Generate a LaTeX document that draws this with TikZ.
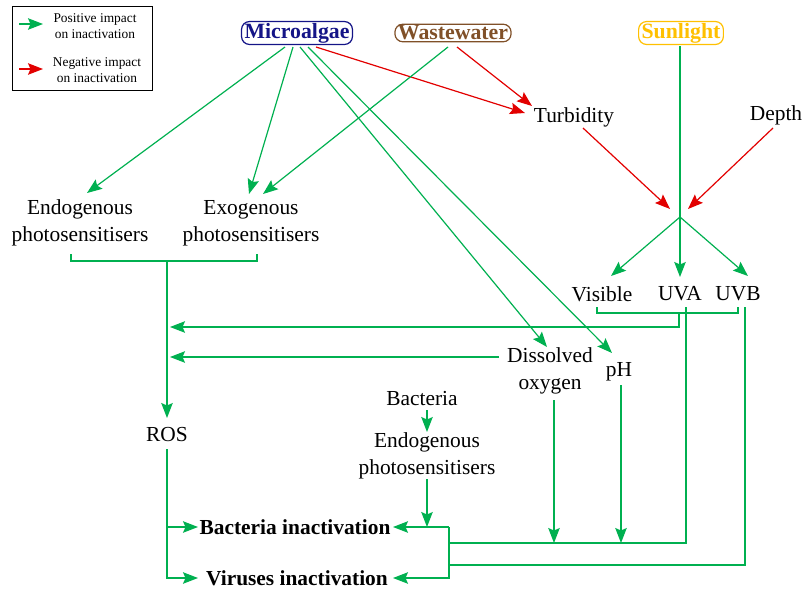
\documentclass[tikz,border=0pt]{standalone}
\usepackage{fontspec}
\setmainfont{Liberation Serif}
\usetikzlibrary{arrows.meta}
\definecolor{gr}{RGB}{0,176,80}
\definecolor{rd}{RGB}{226,0,0}
\definecolor{navyc}{RGB}{20,20,135}
\definecolor{brn}{RGB}{128,80,40}
\definecolor{goldc}{RGB}{255,192,0}
\begin{document}
\begin{tikzpicture}[x=1pt,y=-1pt,
  lbl/.style={font=\fontsize{21.4}{27}\selectfont, inner sep=0pt, align=center},
  blbl/.style={font=\fontsize{21.4}{27}\selectfont\bfseries, inner sep=0pt, align=center},
  src/.style={font=\fontsize{21.8}{27}\selectfont\bfseries, draw, rounded corners=8pt, line width=1.2pt, inner xsep=3pt, inner ysep=1.5pt},
  leglbl/.style={font=\fontsize{13.4}{16.5}\selectfont, inner sep=0pt, align=center},
  arrtip/.style={-{Stealth[length=15pt,width=11.5pt,inset=2.5pt]}},
  posline/.style={gr, line width=1.2pt},
  negline/.style={rd, line width=1.2pt},
  ]
\useasboundingbox (0,0) rectangle (804,590);

% legend
\node[draw, line width=0.8pt, minimum width=140pt, minimum height=84pt, inner sep=0pt] (legend) at (82,48) {};
\coordinate (lp0) at (19,24); \coordinate (lp1) at (43,24);
\coordinate (ln0) at (19,69); \coordinate (ln1) at (43,69);
\draw[posline,arrtip] (lp0) -- (lp1);
\draw[negline,arrtip] (ln0) -- (ln1);
\node[leglbl] (legpos) at (95,26) {Positive impact\\on inactivation};
\node[leglbl] (legneg) at (97,70) {Negative impact\\on inactivation};

% sources
\node[src, navyc] (micro) at (297,33) {Microalgae};
\node[src, brn] (waste) at (453,33) {Wastewater};
\node[src, goldc] (sun) at (681,33) {Sunlight};

% labels
\node[lbl] (turb) at (574,117) {Turbidity};
\node[lbl] (depth) at (776,115) {Depth};
\node[lbl] (endo) at (80,223) {Endogenous\\photosensitisers};
\node[lbl] (exo) at (251,223) {Exogenous\\photosensitisers};
\node[lbl] (vis) at (602,294) {Visible};
\node[lbl] (uva) at (680,294) {UVA};
\node[lbl] (uvb) at (738,294) {UVB};
\node[lbl] (dox) at (550,371) {Dissolved\\oxygen};
\node[lbl] (ph) at (619,372) {pH};
\node[lbl] (bact) at (422,399) {Bacteria};
\node[lbl] (bendo) at (427,456) {Endogenous\\photosensitisers};
\node[lbl] (ros) at (167,435) {ROS};
\node[blbl] (binact) at (295,527) {Bacteria inactivation};
\node[blbl] (vinact) at (297,578) {Viruses inactivation};

% red connectors
\coordinate (j) at (680,217);
\draw[negline,arrtip] (316,47) -- (525,113);
\draw[negline,arrtip] (457,47) -- (532,106);
\draw[negline,arrtip] (583,128) -- (670,209);
\draw[negline,arrtip] (773,128) -- (688,209);

% sunlight
\coordinate (sunb) at (680,46);
\draw[posline,arrtip] (sunb) -- (680,277);
\draw[posline,arrtip] (j) -- (611,276);
\draw[posline,arrtip] (j) -- (748,276);

% microalgae / wastewater green
\draw[posline,arrtip] (285,47) -- (87,193);
\draw[posline,arrtip] (293,47) -- (249,194);
\draw[posline,arrtip] (448,47) -- (263,194);
\draw[posline,arrtip] (300,47) -- (547,347);
\draw[posline,arrtip] (308,47) -- (612,353);

% photosensitiser bracket -> ROS
\draw[posline] (71,254) -- (71,261) -- (257,261) -- (257,254);
\draw[posline,arrtip] (167,261) -- (167,418);

% light bracket -> ROS
\draw[posline] (597,307) -- (597,313) -- (738,313) -- (738,307);
\draw[posline,arrtip] (679,313) -- (679,327) -- (170,327);
% dissolved oxygen -> ROS
\draw[posline,arrtip] (499,357) -- (170,357);

% ROS -> inactivation
\draw[posline,arrtip] (167,449) -- (167,578) -- (198,578);
\draw[posline,arrtip] (167,527) -- (198,527);

% bacteria endogenous
\coordinate (bactb) at (427,410);
\draw[posline,arrtip] (bactb) -- (427,432);
\draw[posline,arrtip] (bendo.south) -- (bendo.south |- binact);

% right bracket
\draw[posline,arrtip] (449,527) -- (393,527);
\draw[posline,arrtip] (449,527) -- (449,578) -- (393,578);
\draw[posline] (686,307) -- (686,543) -- (449,543);
\draw[posline] (745,307) -- (745,565) -- (449,565);
\draw[posline,arrtip] (554,400) -- (554,543);
\draw[posline,arrtip] (621,385) -- (621,543);
\end{tikzpicture}
\end{document}
